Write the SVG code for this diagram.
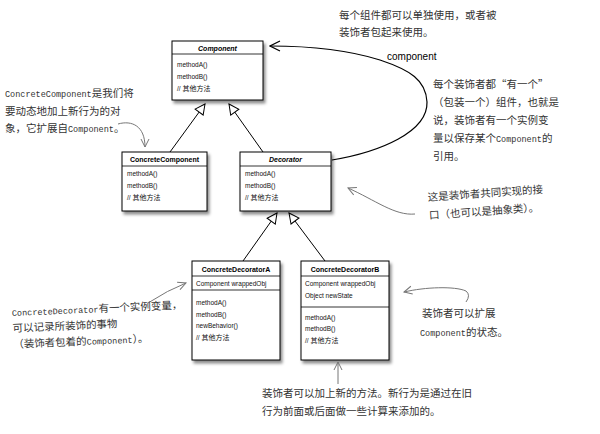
<svg xmlns="http://www.w3.org/2000/svg" width="600" height="434" viewBox="0 0 600 434">
<style>
.box{fill:#fff;stroke:#000;stroke-width:1;filter:url(#sh)}
.div{stroke:#000;stroke-width:0.8}
.hd{font-family:"Liberation Sans",Arial,sans-serif;font-size:7px;font-weight:bold;text-anchor:middle;fill:#000}
.it{font-style:italic}
.bd{font-family:"Liberation Sans","Noto Sans CJK SC",sans-serif;font-size:6.5px;fill:#111}
.cj{font-family:"Noto Sans CJK SC",sans-serif;font-size:7px}
.note{font-family:"Noto Sans CJK SC",sans-serif;font-size:10.5px;fill:#333}
.lat{font-family:"Liberation Mono","Courier New",monospace;font-size:8.5px}
.uml{stroke:#000;stroke-width:1;fill:none;marker-end:url(#tri)}
.ann{stroke:#777;stroke-width:1;fill:none;marker-end:url(#open)}
</style>
<defs>
<filter id="sh" x="-10%" y="-10%" width="130%" height="130%">
<feDropShadow dx="2" dy="3" stdDeviation="1.5" flood-color="#000" flood-opacity="0.45"/>
</filter>
<marker id="tri" markerUnits="userSpaceOnUse" viewBox="0 0 12 12" refX="11" refY="6" markerWidth="12" markerHeight="12" orient="auto">
<path d="M1,1 L11,6 L1,11 Z" fill="#fff" stroke="#000" stroke-width="1"/>
</marker>
<marker id="open" markerUnits="userSpaceOnUse" viewBox="0 0 10 10" refX="9" refY="5" markerWidth="10" markerHeight="10" orient="auto">
<path d="M1,1 L9,5 L1,9" fill="none" stroke="#777" stroke-width="1"/>
</marker>
<marker id="openb" markerUnits="userSpaceOnUse" viewBox="0 0 12 12" refX="11" refY="6" markerWidth="12" markerHeight="12" orient="auto">
<path d="M1,1 L11,6 L1,11" fill="none" stroke="#000" stroke-width="1.2"/>
</marker>
</defs>
<rect width="600" height="434" fill="#fff"/>

<g id="connectors">
<path class="uml" d="M170,152 L205,104"/>
<path class="uml" d="M263,152 L229,104"/>
<path class="uml" d="M243,261 L277,213"/>
<path class="uml" d="M325,261 L289,213"/>
<path d="M332,160 C380,152 428,132 427,102 C426,80 410,70 380,60 C345,49 305,46 270,46" fill="none" stroke="#000" stroke-width="1.2" marker-end="url(#openb)"/>
<text x="387" y="60" font-family="Liberation Sans,Arial,sans-serif" font-size="10" fill="#000">component</text>
</g>

<g id="Component">
<rect class="box" x="172" y="41" width="91" height="59"/>
<line class="div" x1="172" y1="54" x2="263" y2="54"/>
<text class="hd it" x="217.5" y="51">Component</text>
<text class="bd" x="177" y="67">methodA()</text>
<text class="bd" x="177" y="79">methodB()</text>
<text class="bd" x="177" y="91">// <tspan class="cj">其他方法</tspan></text>
</g>

<g id="ConcreteComponent">
<rect class="box" x="122" y="152" width="85" height="59"/>
<line class="div" x1="122" y1="166" x2="207" y2="166"/>
<text class="hd" x="164.5" y="162">ConcreteComponent</text>
<text class="bd" x="127" y="176">methodA()</text>
<text class="bd" x="127" y="188">methodB()</text>
<text class="bd" x="127" y="200">// <tspan class="cj">其他方法</tspan></text>
</g>

<g id="Decorator">
<rect class="box" x="240" y="152" width="91" height="59"/>
<line class="div" x1="240" y1="166" x2="331" y2="166"/>
<text class="hd it" x="285.5" y="162">Decorator</text>
<text class="bd" x="245" y="176">methodA()</text>
<text class="bd" x="245" y="188">methodB()</text>
<text class="bd" x="245" y="200">// <tspan class="cj">其他方法</tspan></text>
</g>

<g id="ConcreteDecoratorA">
<rect class="box" x="192" y="261" width="88" height="99"/>
<line class="div" x1="192" y1="276" x2="280" y2="276"/>
<line class="div" x1="192" y1="290" x2="280" y2="290"/>
<text class="hd" x="236" y="272">ConcreteDecoratorA</text>
<text class="bd" x="196" y="285.5">Component wrappedObj</text>
<text class="bd" x="196" y="305">methodA()</text>
<text class="bd" x="196" y="316.5">methodB()</text>
<text class="bd" x="196" y="328">newBehavior()</text>
<text class="bd" x="196" y="339.5">// <tspan class="cj">其他方法</tspan></text>
</g>

<g id="ConcreteDecoratorB">
<rect class="box" x="301" y="261" width="88" height="99"/>
<line class="div" x1="301" y1="276" x2="389" y2="276"/>
<line class="div" x1="301" y1="307" x2="389" y2="307"/>
<text class="hd" x="345" y="272">ConcreteDecoratorB</text>
<text class="bd" x="305" y="285.5">Component wrappedObj</text>
<text class="bd" x="305" y="297.5">Object newState</text>
<text class="bd" x="305" y="319.5">methodA()</text>
<text class="bd" x="305" y="331">methodB()</text>
<text class="bd" x="305" y="343">// <tspan class="cj">其他方法</tspan></text>
</g>

<g id="note-top">
<text class="note" x="339" y="19">每个组件都可以单独使用，或者被</text>
<text class="note" x="339" y="36">装饰者包起来使用。</text>
</g>

<g id="note-right">
<text class="note" x="433" y="88">每个装饰者都“有一个”</text>
<text class="note" x="433" y="106">（包装一个）组件，也就是</text>
<text class="note" x="433" y="124">说，装饰者有一个实例变</text>
<text class="note" x="433" y="142">量以保存某个<tspan class="lat">Component</tspan>的</text>
<text class="note" x="433" y="160">引用。</text>
</g>

<g id="note-left-top">
<text class="note" x="5" y="97"><tspan class="lat">ConcreteComponent</tspan>是我们将</text>
<text class="note" x="5" y="115">要动态地加上新行为的对</text>
<text class="note" x="5" y="132">象，它扩展自<tspan class="lat">Component</tspan>。</text>
<path class="ann" d="M118,124 C132,120 145,126 145,147"/>
</g>

<g id="note-interface">
<path class="ann" d="M415,214 C395,216 375,200 348,188"/>
<g transform="rotate(-4 428 200)">
<text class="note" x="428" y="201">这是装饰者共同实现的接</text>
<text class="note" x="428" y="219">口（也可以是抽象类）。</text>
</g>
</g>

<g id="note-left-bottom">
<path class="ann" d="M148,303 Q168,290 186,283"/>
<g transform="rotate(-2.5 12 316)">
<text class="note" x="12" y="316"><tspan class="lat">ConcreteDecorator</tspan>有一个实例变量，</text>
<text class="note" x="12" y="332">可以记录所装饰的事物</text>
<text class="note" x="12" y="348">（装饰者包着的<tspan class="lat">Component</tspan>）。</text>
</g>
</g>

<g id="note-state">
<path class="ann" d="M466,302 Q471,295 466,291 C455,286 425,287 404,292"/>
<text class="note" x="422" y="317">装饰者可以扩展</text>
<text class="note" x="420" y="336"><tspan class="lat">Component</tspan>的状态。</text>
</g>

<g id="note-bottom">
<path class="ann" d="M338,384 L338,362"/>
<text class="note" x="262" y="397">装饰者可以加上新的方法。新行为是通过在旧</text>
<text class="note" x="262" y="415">行为前面或后面做一些计算来添加的。</text>
</g>
</svg>
